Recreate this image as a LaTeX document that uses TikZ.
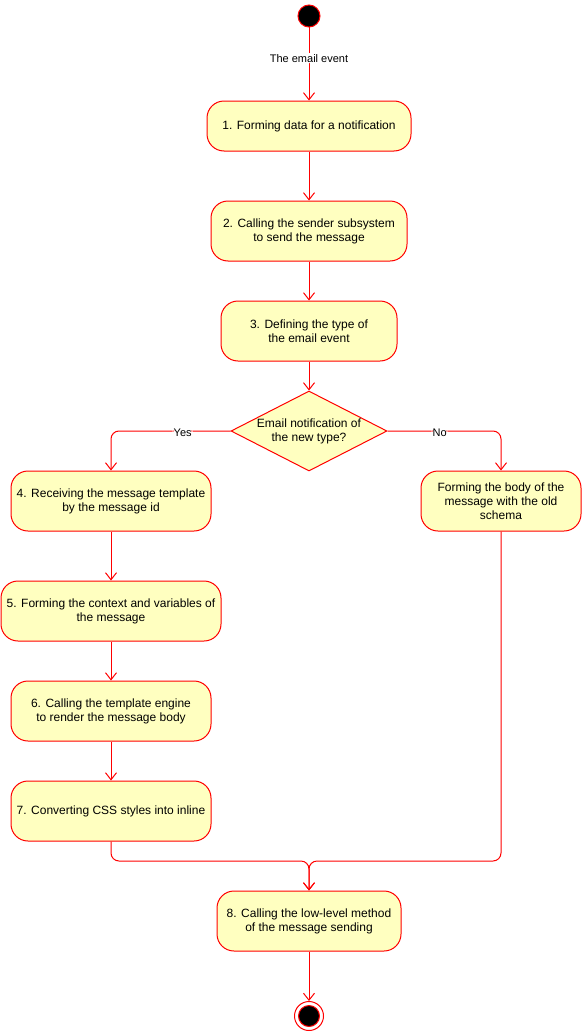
\documentclass[tikz,border=0pt]{standalone}
\usepackage{fontspec}
\setmainfont{Liberation Sans}
\usetikzlibrary{arrows.meta,shapes.geometric}
\definecolor{nodefill}{HTML}{FFFFC0}
\definecolor{nodeline}{HTML}{FF0000}
\begin{document}
\begin{tikzpicture}[x=1pt,y=-1pt,
  act/.style={draw=nodeline,fill=nodefill,line width=1pt,rounded corners=17pt,
    inner sep=0pt,align=center,font=\fontsize{12}{14}\selectfont},
  decision/.style={draw=nodeline,fill=nodefill,line width=1pt,diamond,inner sep=0pt,
    minimum width=156pt,minimum height=80pt},
  flow/.style={draw=nodeline,line width=1pt,rounded corners=8pt,
    -{Straight Barb[length=7pt,width=11pt]}},
  lbl/.style={fill=white,inner sep=1pt,font=\fontsize{11}{13}\selectfont},
  txt/.style={align=center,font=\fontsize{12}{14}\selectfont,inner sep=0pt}]
\useasboundingbox (0,0) rectangle (583,1033);
% start
\node[circle,draw=nodeline,fill=black,line width=1pt,minimum size=22pt,inner sep=0pt] (start) at (309,16) {};
% activities
\node[act,minimum width=204pt,minimum height=50pt] (n1) at (309,126) {1. Forming data for a notification};
\node[act,minimum width=196pt,minimum height=60pt] (n2) at (309,231) {2. Calling the sender subsystem\\to send the message};
\node[act,minimum width=176pt,minimum height=60pt] (n3) at (309,331) {3. Defining the type of\\the email event};
\node[decision] (d) at (309,431) {};
\node[txt] (dt) at (309,431) {Email notification of\\the new type?};
\node[act,minimum width=200pt,minimum height=60pt] (n4) at (111,501) {4. Receiving the message template\\by the message id};
\node[act,minimum width=160pt,minimum height=60pt] (nr) at (501,501) {Forming the body of the\\message with the old\\schema};
\node[act,minimum width=220pt,minimum height=60pt] (n5) at (111,611) {5. Forming the context and variables of\\the message};
\node[act,minimum width=200pt,minimum height=60pt] (n6) at (111,711) {6. Calling the template engine\\to render the message body};
\node[act,minimum width=200pt,minimum height=60pt] (n7) at (111,811) {7. Converting CSS styles into inline};
\node[act,minimum width=184pt,minimum height=60pt] (n8) at (309,921) {8. Calling the low-level method\\of the message sending};
% end
\node[circle,draw=nodeline,fill=white,line width=1pt,minimum size=29pt,inner sep=0pt] (endo) at (309,1016) {};
\node[circle,draw=nodeline,fill=black,line width=1pt,minimum size=21pt,inner sep=0pt] (endi) at (309,1016) {};
% connectors
\draw[flow] (start) -- node[lbl,pos=0.42] (evl) {The email event} (n1);
\draw[flow] (n1) -- (n2);
\draw[flow] (n2) -- (n3);
\draw[flow] (n3) -- (d);
\draw[flow] (d.west) -| node[lbl,pos=0.2,yshift=-1.5pt] (yes) {Yes} (n4.north);
\draw[flow] (d.east) -| node[lbl,pos=0.23,yshift=-1.5pt] (no) {No} (nr.north);
\draw[flow] (n4) -- (n5);
\draw[flow] (n5) -- (n6);
\draw[flow] (n6) -- (n7);
\coordinate (m) at (309,861);
\draw[flow] (n7.south) |- (m) -- (n8.north);
\draw[flow] (nr.south) |- (m) -- (n8.north);
\draw[flow] (n8) -- (endo);
\end{tikzpicture}
\end{document}
